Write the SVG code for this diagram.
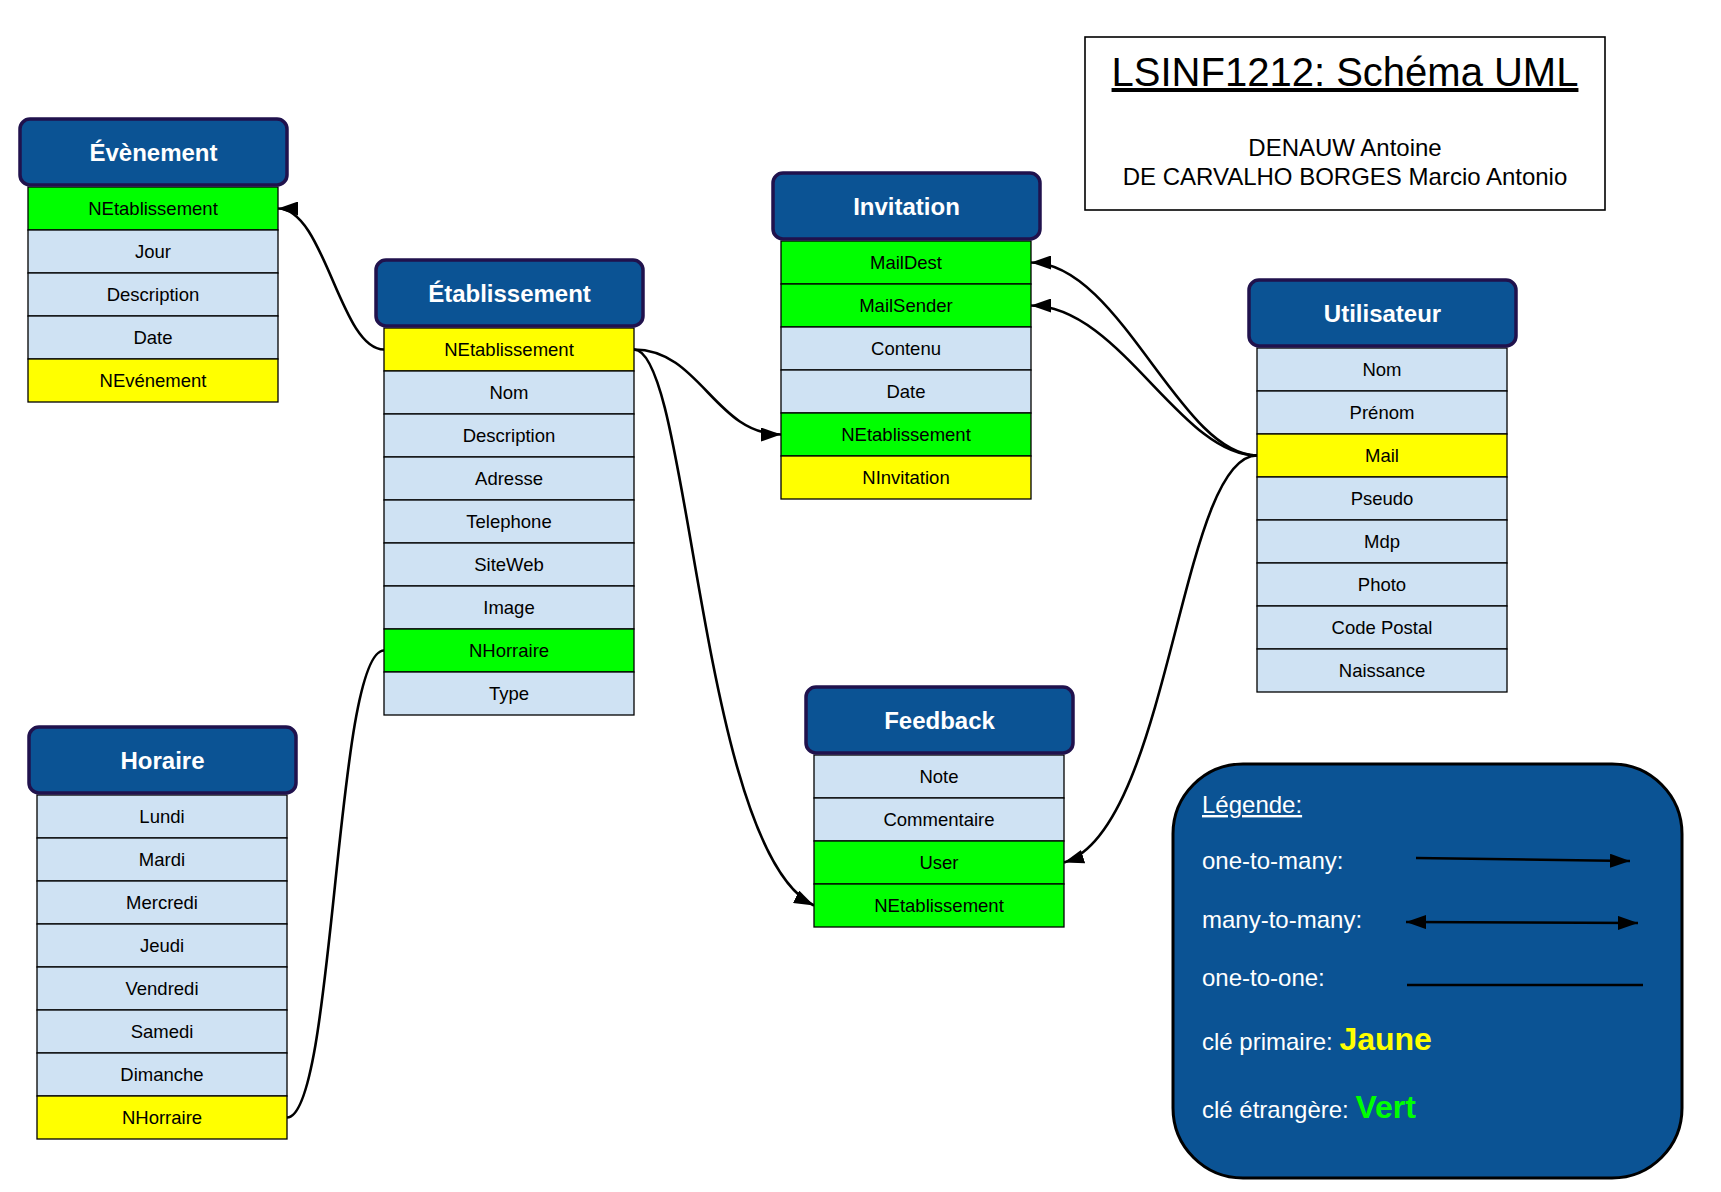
<svg xmlns="http://www.w3.org/2000/svg" width="1721" height="1192" viewBox="0 0 1721 1192">
<style>
text{font-family:"Liberation Sans",Arial,sans-serif}
.hd{fill:#0b5394;stroke:#20124d;stroke-width:3.5}
.ht{fill:#fff;font-size:24px;font-weight:bold;text-anchor:middle}
.at{fill:#cfe2f3;stroke:#000;stroke-width:1.3}
.pk{fill:#ffff00;stroke:#000;stroke-width:1.3}
.fk{fill:#00ff00;stroke:#000;stroke-width:1.3}
.rt{fill:#000;font-size:18.5px;text-anchor:middle}
.cn{fill:none;stroke:#000;stroke-width:2.6}
.lg{fill:#fff;font-size:24px}
</style>
<defs>
<marker id="arr" markerWidth="20" markerHeight="14" refX="20" refY="7" orient="auto-start-reverse" markerUnits="userSpaceOnUse"><path d="M0,0 L20,7 L0,14 z" fill="#000"/></marker>
</defs>
<rect width="1721" height="1192" fill="#fff"/>

<g id="title">
<rect x="1085" y="37" width="520" height="173" fill="#fff" stroke="#000" stroke-width="1.6"/>
<text x="1345" y="86" font-size="40" text-anchor="middle" text-decoration="underline" fill="#000">LSINF1212: Schéma UML</text>
<text x="1345" y="156" font-size="24" text-anchor="middle" fill="#000">DENAUW Antoine</text>
<text x="1345" y="185" font-size="24" text-anchor="middle" fill="#000">DE CARVALHO BORGES Marcio Antonio</text>
</g>

<g id="connectors">
<path class="cn" d="M384 349.5 C340 349.5 325 208.5 278 208.5" marker-end="url(#arr)"/>
<path class="cn" d="M634 349.5 C700 349.5 715 434.5 781 434.5" marker-end="url(#arr)"/>
<path class="cn" d="M634 349.5 C690 349.5 700 850 814 905.5" marker-end="url(#arr)"/>
<path class="cn" d="M287 1117.5 C335 1117.5 335 650.5 384 650.5"/>
<path class="cn" d="M1257 455.5 C1180 455.5 1120 262.5 1031 262.5" marker-end="url(#arr)"/>
<path class="cn" d="M1257 455.5 C1180 455.5 1120 305.5 1031 305.5" marker-end="url(#arr)"/>
<path class="cn" d="M1257 455.5 C1180 455.5 1170 830 1064 862.5" marker-end="url(#arr)"/>
</g>

<g id="evenement">
<rect class="fk" x="28" y="187" width="250" height="43"/><text class="rt" x="153" y="215">NEtablissement</text>
<rect class="at" x="28" y="230" width="250" height="43"/><text class="rt" x="153" y="258">Jour</text>
<rect class="at" x="28" y="273" width="250" height="43"/><text class="rt" x="153" y="301">Description</text>
<rect class="at" x="28" y="316" width="250" height="43"/><text class="rt" x="153" y="344">Date</text>
<rect class="pk" x="28" y="359" width="250" height="43"/><text class="rt" x="153" y="387">NEvénement</text>
<rect class="hd" x="20" y="119" width="267" height="66" rx="10"/><text class="ht" x="153.5" y="161">Évènement</text>
</g>

<g id="etablissement">
<rect class="pk" x="384" y="328" width="250" height="43"/><text class="rt" x="509" y="356">NEtablissement</text>
<rect class="at" x="384" y="371" width="250" height="43"/><text class="rt" x="509" y="399">Nom</text>
<rect class="at" x="384" y="414" width="250" height="43"/><text class="rt" x="509" y="442">Description</text>
<rect class="at" x="384" y="457" width="250" height="43"/><text class="rt" x="509" y="485">Adresse</text>
<rect class="at" x="384" y="500" width="250" height="43"/><text class="rt" x="509" y="528">Telephone</text>
<rect class="at" x="384" y="543" width="250" height="43"/><text class="rt" x="509" y="571">SiteWeb</text>
<rect class="at" x="384" y="586" width="250" height="43"/><text class="rt" x="509" y="614">Image</text>
<rect class="fk" x="384" y="629" width="250" height="43"/><text class="rt" x="509" y="657">NHorraire</text>
<rect class="at" x="384" y="672" width="250" height="43"/><text class="rt" x="509" y="700">Type</text>
<rect class="hd" x="376" y="260" width="267" height="66" rx="10"/><text class="ht" x="509.5" y="302">Établissement</text>
</g>

<g id="invitation">
<rect class="fk" x="781" y="241" width="250" height="43"/><text class="rt" x="906" y="269">MailDest</text>
<rect class="fk" x="781" y="284" width="250" height="43"/><text class="rt" x="906" y="312">MailSender</text>
<rect class="at" x="781" y="327" width="250" height="43"/><text class="rt" x="906" y="355">Contenu</text>
<rect class="at" x="781" y="370" width="250" height="43"/><text class="rt" x="906" y="398">Date</text>
<rect class="fk" x="781" y="413" width="250" height="43"/><text class="rt" x="906" y="441">NEtablissement</text>
<rect class="pk" x="781" y="456" width="250" height="43"/><text class="rt" x="906" y="484">NInvitation</text>
<rect class="hd" x="773" y="173" width="267" height="66" rx="10"/><text class="ht" x="906.5" y="215">Invitation</text>
</g>

<g id="utilisateur">
<rect class="at" x="1257" y="348" width="250" height="43"/><text class="rt" x="1382" y="376">Nom</text>
<rect class="at" x="1257" y="391" width="250" height="43"/><text class="rt" x="1382" y="419">Prénom</text>
<rect class="pk" x="1257" y="434" width="250" height="43"/><text class="rt" x="1382" y="462">Mail</text>
<rect class="at" x="1257" y="477" width="250" height="43"/><text class="rt" x="1382" y="505">Pseudo</text>
<rect class="at" x="1257" y="520" width="250" height="43"/><text class="rt" x="1382" y="548">Mdp</text>
<rect class="at" x="1257" y="563" width="250" height="43"/><text class="rt" x="1382" y="591">Photo</text>
<rect class="at" x="1257" y="606" width="250" height="43"/><text class="rt" x="1382" y="634">Code Postal</text>
<rect class="at" x="1257" y="649" width="250" height="43"/><text class="rt" x="1382" y="677">Naissance</text>
<rect class="hd" x="1249" y="280" width="267" height="66" rx="10"/><text class="ht" x="1382.5" y="322">Utilisateur</text>
</g>

<g id="feedback">
<rect class="at" x="814" y="755" width="250" height="43"/><text class="rt" x="939" y="783">Note</text>
<rect class="at" x="814" y="798" width="250" height="43"/><text class="rt" x="939" y="826">Commentaire</text>
<rect class="fk" x="814" y="841" width="250" height="43"/><text class="rt" x="939" y="869">User</text>
<rect class="fk" x="814" y="884" width="250" height="43"/><text class="rt" x="939" y="912">NEtablissement</text>
<rect class="hd" x="806" y="687" width="267" height="66" rx="10"/><text class="ht" x="939.5" y="729">Feedback</text>
</g>

<g id="horaire">
<rect class="at" x="37" y="795" width="250" height="43"/><text class="rt" x="162" y="823">Lundi</text>
<rect class="at" x="37" y="838" width="250" height="43"/><text class="rt" x="162" y="866">Mardi</text>
<rect class="at" x="37" y="881" width="250" height="43"/><text class="rt" x="162" y="909">Mercredi</text>
<rect class="at" x="37" y="924" width="250" height="43"/><text class="rt" x="162" y="952">Jeudi</text>
<rect class="at" x="37" y="967" width="250" height="43"/><text class="rt" x="162" y="995">Vendredi</text>
<rect class="at" x="37" y="1010" width="250" height="43"/><text class="rt" x="162" y="1038">Samedi</text>
<rect class="at" x="37" y="1053" width="250" height="43"/><text class="rt" x="162" y="1081">Dimanche</text>
<rect class="pk" x="37" y="1096" width="250" height="43"/><text class="rt" x="162" y="1124">NHorraire</text>
<rect class="hd" x="29" y="727" width="267" height="66" rx="10"/><text class="ht" x="162.5" y="769">Horaire</text>
</g>

<g id="legende">
<rect x="1173" y="764" width="509" height="414" rx="70" fill="#0b5394" stroke="#000" stroke-width="3"/>
<text class="lg" x="1202" y="813" text-decoration="underline">Légende:</text>
<text class="lg" x="1202" y="869">one-to-many:</text>
<text class="lg" x="1202" y="928">many-to-many:</text>
<text class="lg" x="1202" y="986">one-to-one:</text>
<text class="lg" x="1202" y="1050">clé primaire: <tspan font-size="32" font-weight="bold" fill="#ffff00">Jaune</tspan></text>
<text class="lg" x="1202" y="1118">clé étrangère: <tspan font-size="32" font-weight="bold" fill="#00ff00">Vert</tspan></text>
<path class="cn" d="M1416 858 L1630 861" marker-end="url(#arr)"/>
<path class="cn" d="M1406 922 L1638 923" marker-start="url(#arr)" marker-end="url(#arr)"/>
<path class="cn" d="M1407 985 L1643 985"/>
</g>
</svg>
